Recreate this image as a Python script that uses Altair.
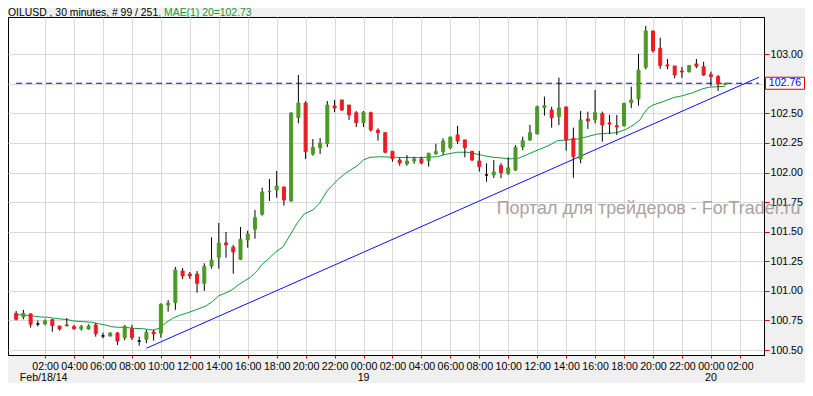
import altair as alt
import pandas as pd

# ---- candle data (30-minute bars starting 2014-02-18 00:00) ----
opens = [100.81, 100.78, 100.805, 100.72, 100.72, 100.757, 100.703, 100.712, 100.697, 100.68,
         100.678, 100.712, 100.619, 100.619, 100.644, 100.604, 100.68, 100.576, 100.591, 100.653,
         100.642, 100.88, 100.90, 101.168, 101.143, 101.143, 101.064, 101.21, 101.284, 101.405,
         101.369, 101.267, 101.43, 101.521, 101.648, 101.838, 101.853, 101.878, 101.76, 102.464,
         102.588, 102.157, 102.21, 102.244, 102.563, 102.614, 102.571, 102.506, 102.422, 102.506,
         102.358, 102.337, 102.18, 102.106, 102.073, 102.098, 102.115, 102.10, 102.16, 102.177,
         102.21, 102.318, 102.276, 102.18, 102.098, 101.98, 101.98, 102.058, 101.994, 102.022,
         102.216, 102.276, 102.326, 102.549, 102.529, 102.473, 102.555, 102.29, 102.115, 102.453,
         102.445, 102.498, 102.42, 102.396, 102.396, 102.59, 102.622, 102.89, 103.197, 103.05,
         102.91, 102.901, 102.859, 102.853, 102.918, 102.895, 102.828, 102.811, 102.745]
highs = [100.83, 100.84, 100.81, 100.75, 100.76, 100.76, 100.705, 100.771, 100.712, 100.712,
         100.717, 100.729, 100.647, 100.65, 100.653, 100.712, 100.712, 100.613, 100.67, 100.67,
         100.895, 100.923, 101.202, 101.193, 101.16, 101.168, 101.233, 101.453, 101.574, 101.498,
         101.388, 101.54, 101.509, 101.684, 101.872, 101.946, 102.014, 101.88, 102.51, 102.825,
         102.603, 102.284, 102.292, 102.605, 102.614, 102.614, 102.571, 102.52, 102.52, 102.515,
         102.374, 102.337, 102.18, 102.126, 102.149, 102.134, 102.132, 102.168, 102.244, 102.29,
         102.301, 102.396, 102.276, 102.18, 102.183, 102.079, 102.107, 102.079, 102.129, 102.233,
         102.303, 102.402, 102.566, 102.642, 102.557, 102.802, 102.555, 102.38, 102.521, 102.515,
         102.698, 102.515, 102.487, 102.487, 102.586, 102.726, 103.003, 103.239, 103.197, 103.14,
         102.96, 102.901, 102.893, 102.91, 102.96, 102.937, 102.853, 102.825, 102.76]
lows = [100.75, 100.76, 100.69, 100.70, 100.71, 100.655, 100.664, 100.697, 100.672, 100.664,
        100.672, 100.613, 100.60, 100.613, 100.543, 100.582, 100.585, 100.537, 100.557, 100.579,
        100.604, 100.824, 100.839, 101.10, 101.10, 100.985, 101.0, 101.188, 101.188, 101.28,
        101.145, 101.261, 101.365, 101.441, 101.636, 101.76, 101.788, 101.72, 101.754, 102.417,
        102.115, 102.143, 102.157, 102.216, 102.51, 102.52, 102.445, 102.385, 102.385, 102.346,
        102.27, 102.163, 102.092, 102.058, 102.058, 102.075, 102.07, 102.05, 102.151, 102.149,
        102.197, 102.242, 102.129, 102.098, 102.008, 101.923, 101.954, 101.952, 101.98, 102.014,
        102.19, 102.267, 102.326, 102.481, 102.38, 102.402, 102.185, 101.956, 102.079, 102.369,
        102.417, 102.261, 102.326, 102.318, 102.388, 102.544, 102.566, 102.873, 103.014, 102.876,
        102.873, 102.797, 102.80, 102.845, 102.882, 102.817, 102.732, 102.69, 102.74]
closes = [100.76, 100.81, 100.718, 100.72, 100.746, 100.706, 100.678, 100.706, 100.68, 100.697,
          100.703, 100.638, 100.619, 100.644, 100.576, 100.70, 100.604, 100.576, 100.65, 100.636,
          100.887, 100.897, 101.177, 101.126, 101.126, 101.064, 101.208, 101.261, 101.405, 101.39,
          101.329, 101.436, 101.481, 101.619, 101.836, 101.842, 101.887, 101.768, 102.504, 102.588,
          102.177, 102.214, 102.25, 102.571, 102.546, 102.529, 102.487, 102.422, 102.51, 102.36,
          102.337, 102.172, 102.117, 102.081, 102.098, 102.115, 102.081, 102.163, 102.177, 102.267,
          102.301, 102.267, 102.21, 102.106, 102.05, 101.98, 102.005, 101.999, 102.041, 102.214,
          102.27, 102.337, 102.557, 102.566, 102.464, 102.546, 102.276, 102.134, 102.445, 102.436,
          102.506, 102.402, 102.41, 102.385, 102.586, 102.614, 102.867, 103.197, 103.03, 102.904,
          102.901, 102.825, 102.85, 102.904, 102.899, 102.825, 102.811, 102.749, 102.755]

# moving average : bar index -> value
ma_idx = [0, 1, 2.3, 3.5, 4.4, 5.3, 6.2, 7.1, 8, 9.1, 10.5, 11.4, 12.3, 13.2, 14.1, 15.1, 16, 17.6,
          18.9, 19.8, 20.7, 21.6, 22.6, 23.5, 24.8, 26.2, 27.1, 28, 28.9, 29.8, 30.7, 31.6, 32.5,
          33.4, 33.9, 34.8, 35.9, 36.9, 38, 38.9, 39.8, 41, 41.9, 43, 44.4, 45.5, 46.2, 47.1, 48,
          48.9, 50.3, 52.3, 55.5, 58.2, 59.4, 61, 62.3, 63.2, 64.6, 65.9, 67.3, 68, 69.4, 70.7,
          72.1, 73.5, 74.8, 76.2, 77.6, 78.9, 80.3, 81.7, 83, 84.4, 85.3, 86.2, 86.6, 87.3, 88,
          89.4, 90.8, 92.1, 93.5, 94.8, 95.7, 98]
ma_val = [100.800, 100.796, 100.788, 100.779, 100.777, 100.768, 100.762, 100.757, 100.745, 100.740,
          100.735, 100.723, 100.712, 100.697, 100.692, 100.692, 100.684, 100.680, 100.669, 100.684,
          100.731, 100.768, 100.794, 100.811, 100.839, 100.872, 100.909, 100.959, 100.980, 101.008,
          101.050, 101.086, 101.120, 101.177, 101.219, 101.267, 101.331, 101.374, 101.487, 101.580,
          101.650, 101.684, 101.740, 101.847, 101.937, 101.994, 102.022, 102.056, 102.107, 102.129,
          102.134, 102.129, 102.126, 102.134, 102.155, 102.172, 102.172, 102.163, 102.143, 102.129,
          102.122, 102.115, 102.121, 102.155, 102.191, 102.225, 102.270, 102.276, 102.284, 102.303,
          102.326, 102.332, 102.337, 102.369, 102.402, 102.445, 102.487, 102.544, 102.571, 102.600,
          102.633, 102.650, 102.675, 102.707, 102.721, 102.730]

trend_idx = [18.0, 102.65]
trend_val = [100.515, 102.806]

last_price = 102.755
last_label = "102.76"

y_ticks = [100.50, 100.75, 101.00, 101.25, 101.50, 101.75, 102.00, 102.25, 102.50, 102.75, 103.00]
hidden_tick = 102.75  # covered by the current-price box in the original
tick_hours = list(range(2, 51, 2))
date_idx = [3.8, 48, 96]
date_labels = ["Feb/18/14", "19", "20"]

title_main = "OILUSD , 30 minutes, # 99 / 251"
title_ma = ", MAE(1) 20=102.73"
watermark = "Портал для трейдеров - ForTrader.ru"

# ---- helpers ----
T0 = pd.Timestamp("2014-02-18 00:00:00", tz="UTC")
t0_ms = int(T0.value // 1_000_000)
BAR_MS = 30 * 60 * 1000


def at(i):
    return t0_ms + i * BAR_MS


FONT = "Liberation Sans"
GREEN = "#4a9a24"
RED = "#ec1c24"
GRID = "#d9d9d9"
W, H = 756, 338

dirs = ["up" if c > o else ("down" if c < o else "flat") for o, c in zip(opens, closes)]
candles = pd.DataFrame({"t": [at(i) for i in range(len(opens))], "o": opens, "h": highs,
                        "l": lows, "c": closes, "d": dirs})
ma_df = pd.DataFrame({"t": [at(i) for i in ma_idx], "p": ma_val})
trend_df = pd.DataFrame({"t": [at(i) for i in trend_idx], "p": trend_val})
dash_df = pd.DataFrame({"t": [at(0)], "t2": [at(102.65)], "p": [last_price]})
date_df = pd.DataFrame({"t": [at(i) for i in date_idx], "label": date_labels})
one = pd.DataFrame({"a": [0]})

xscale = alt.Scale(type="utc", domain=[at(-0.436), at(102.65)], nice=False)
yscale = alt.Scale(domain=[100.458, 103.315], nice=False, zero=False)

xaxis = alt.Axis(values=[t0_ms + h * 3600000 for h in tick_hours],
                 labelExpr="utcFormat(datum.value, '%H:%M')", title=None, grid=True,
                 gridColor=GRID, gridWidth=1, tickColor="#e00000", tickSize=3,
                 domainColor="black", domainWidth=1, labelFont=FONT, labelFontSize=10.6,
                 labelColor="black", labelPadding=3, labelOverlap=False, labelFlush=False)
yaxis = alt.Axis(orient="right", values=y_ticks,
                 labelExpr=f"abs(datum.value - {hidden_tick}) < 0.001 ? '' : format(datum.value, '.2f')",
                 title=None, grid=True,
                 gridColor=GRID, gridWidth=1, tickColor="#e00000", tickSize=5,
                 domainColor="black", domainWidth=1, labelFont=FONT, labelFontSize=10.6,
                 labelColor="black", labelPadding=1, labelOverlap=False, labelFlush=False)


def X(field="t"):
    return alt.X(f"{field}:T", scale=xscale, axis=xaxis)


def Y(field):
    return alt.Y(f"{field}:Q", scale=yscale, axis=yaxis)


dash = alt.Chart(dash_df).mark_rule(color="#0000dd", strokeWidth=1, strokeDash=[6, 4]).encode(
    x=X(), x2="t2:T", y=Y("p"))
ma = alt.Chart(ma_df).mark_line(color="#139a3a", strokeWidth=1, clip=True).encode(x=X(), y=Y("p"))
trend = alt.Chart(trend_df).mark_line(color="#1010ee", strokeWidth=1, clip=True).encode(
    x=X(), y=Y("p"))
wicks = alt.Chart(candles).mark_rule(color="black", strokeWidth=1).encode(
    x=X(), y=Y("l"), y2="h:Q")
cscale = alt.Scale(domain=["up", "down", "flat"], range=[GREEN, RED, "black"])
bodies = alt.Chart(candles).mark_bar(size=3, strokeWidth=1, opacity=1).encode(
    x=X(), y=Y("o"), y2="c:Q",
    color=alt.Color("d:N", scale=cscale, legend=None),
    stroke=alt.Stroke("d:N", scale=cscale, legend=None))

wm = alt.Chart(one).mark_text(align="left", baseline="alphabetic", font=FONT, fontSize=17.9,
                              color="#aca1a1").encode(
    x=alt.value(488.7), y=alt.value(197.3), text=alt.value(watermark))

box_path = "M-1,-0.3077L1,-0.3077L1,0.3077L-1,0.3077Z"
box = alt.Chart(pd.DataFrame({"p": [last_price]})).mark_point(
    shape=box_path, size=39 * 39, filled=True, fill="white", stroke="#e00000", strokeWidth=1,
    opacity=1).encode(x=alt.value(W + 21), y=Y("p"))
boxtxt = alt.Chart(pd.DataFrame({"p": [last_price]})).mark_text(
    align="center", baseline="middle", font=FONT, fontSize=10.6, color="#0000ff").encode(
    x=alt.value(W + 21), y=Y("p"), text=alt.value(last_label))

t1 = alt.Chart(one).mark_text(align="left", baseline="alphabetic", font=FONT, fontSize=10.4,
                              color="black").encode(
    x=alt.value(0), y=alt.value(-1.5), text=alt.value(title_main))
t2 = alt.Chart(one).mark_text(align="left", baseline="alphabetic", font=FONT, fontSize=10.4,
                              color="#139a3a").encode(
    x=alt.value(150.3), y=alt.value(-1.5), text=alt.value(title_ma))

dates = alt.Chart(date_df).mark_text(align="center", baseline="alphabetic", font=FONT,
                                     fontSize=10.6, color="black").encode(
    x=X(), y=alt.value(H + 26), text="label:N")

chart = alt.layer(dash, ma, trend, wicks, bodies, wm, box, boxtxt, t1, t2, dates).properties(
    width=W, height=H,
    padding={"left": 0, "top": 9, "right": 41, "bottom": 28},
    autosize=alt.AutoSizeParams(type="none"),
).configure(background="#f0f0f0").configure_view(fill="white", stroke="black", strokeWidth=1)

chart.save("out.html", embed_options={"renderer": "svg", "actions": False})
